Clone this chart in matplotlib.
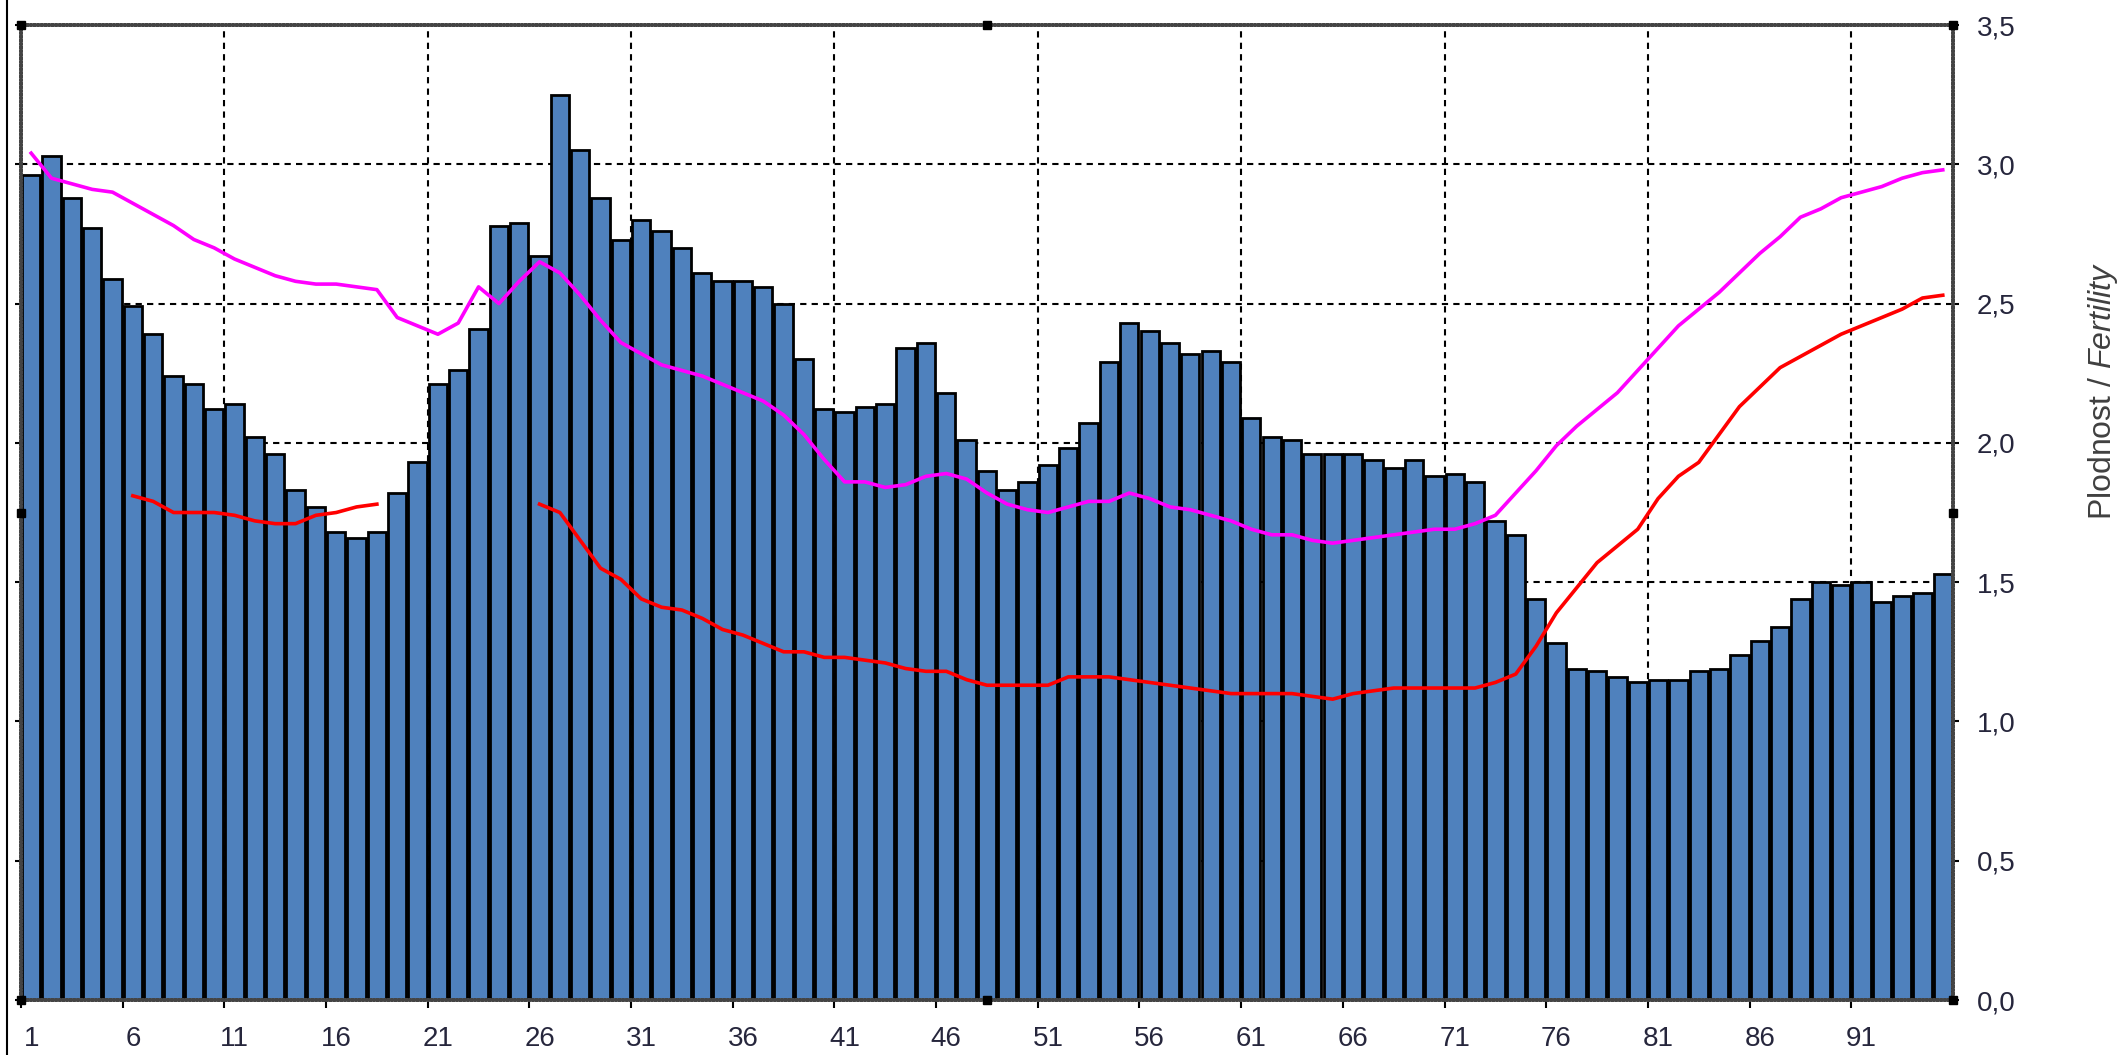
import numpy as np
import matplotlib
matplotlib.use("Agg")
import matplotlib.pyplot as plt
from matplotlib.lines import Line2D
from matplotlib.ticker import FuncFormatter

plt.rcParams['font.family'] = ['Liberation Sans', 'DejaVu Sans']
plt.rcParams['mathtext.fontset'] = 'custom'
plt.rcParams['mathtext.rm'] = 'Liberation Sans'
plt.rcParams['mathtext.it'] = 'Liberation Sans:italic'

ages = np.arange(1, 96)

fertility = [
    2.96, 3.03, 2.88, 2.77, 2.59, 2.49, 2.39, 2.24, 2.21, 2.12,
    2.14, 2.02, 1.96, 1.83, 1.77, 1.68, 1.66, 1.68, 1.82, 1.93,
    2.21, 2.26, 2.41, 2.78, 2.79, 2.67, 3.25, 3.05, 2.88, 2.73,
    2.80, 2.76, 2.70, 2.61, 2.58, 2.58, 2.56, 2.50, 2.30, 2.12,
    2.11, 2.13, 2.14, 2.34, 2.36, 2.18, 2.01, 1.90, 1.83, 1.86,
    1.92, 1.98, 2.07, 2.29, 2.43, 2.40, 2.36, 2.32, 2.33, 2.29,
    2.09, 2.02, 2.01, 1.96, 1.96, 1.96, 1.94, 1.91, 1.94, 1.88,
    1.89, 1.86, 1.72, 1.67, 1.44, 1.28, 1.19, 1.18, 1.16, 1.14,
    1.15, 1.15, 1.18, 1.19, 1.24, 1.29, 1.34, 1.44, 1.50, 1.49,
    1.50, 1.43, 1.45, 1.46, 1.53,
]

upper_trend = [
    3.04, 2.95, 2.93, 2.91, 2.90, 2.86, 2.82, 2.78, 2.73, 2.70,
    2.66, 2.63, 2.60, 2.58, 2.57, 2.57, 2.56, 2.55, 2.45, 2.42,
    2.39, 2.43, 2.56, 2.50, 2.58, 2.65, 2.61, 2.53, 2.44, 2.36,
    2.32, 2.28, 2.26, 2.24, 2.21, 2.18, 2.15, 2.10, 2.03, 1.94,
    1.86, 1.86, 1.84, 1.85, 1.88, 1.89, 1.87, 1.82, 1.78, 1.76,
    1.75, 1.77, 1.79, 1.79, 1.82, 1.80, 1.77, 1.76, 1.74, 1.72,
    1.69, 1.67, 1.67, 1.65, 1.64, 1.65, 1.66, 1.67, 1.68, 1.69,
    1.69, 1.71, 1.74, 1.82, 1.90, 1.99, 2.06, 2.12, 2.18, 2.26,
    2.34, 2.42, 2.48, 2.54, 2.61, 2.68, 2.74, 2.81, 2.84, 2.88,
    2.90, 2.92, 2.95, 2.97, 2.98,
]

nan = np.nan
lower_trend = [
    nan, nan, nan, nan, nan, 1.81, 1.79, 1.75, 1.75, 1.75,
    1.74, 1.72, 1.71, 1.71, 1.74, 1.75, 1.77, 1.78, nan, nan,
    nan, nan, nan, nan, nan, 1.78, 1.75, 1.65, 1.55, 1.51,
    1.44, 1.41, 1.40, 1.37, 1.33, 1.31, 1.28, 1.25, 1.25, 1.23,
    1.23, 1.22, 1.21, 1.19, 1.18, 1.18, 1.15, 1.13, 1.13, 1.13,
    1.13, 1.16, 1.16, 1.16, 1.15, 1.14, 1.13, 1.12, 1.11, 1.10,
    1.10, 1.10, 1.10, 1.09, 1.08, 1.10, 1.11, 1.12, 1.12, 1.12,
    1.12, 1.12, 1.14, 1.17, 1.27, 1.39, 1.48, 1.57, 1.63, 1.69,
    1.80, 1.88, 1.93, 2.03, 2.13, 2.20, 2.27, 2.31, 2.35, 2.39,
    2.42, 2.45, 2.48, 2.52, 2.53,
]

label_ages = ages[::5]
y_ticks = np.arange(0, 3.51, 0.5)

text_color = '#26263c'
dash = (0, (3, 2.5))

fig = plt.figure(figsize=(21.2, 10.55), dpi=100)
ax = fig.add_axes([0.0099, 0.0521, 0.9113, 0.9242])

# grid behind the bars
for y in y_ticks[1:-1]:
    ax.axhline(y, color='black', lw=1.5, ls=dash, zorder=1)
for x in ages[10::10] - 0.5:
    ax.axvline(x, color='black', lw=1.5, ls=dash, zorder=1)

ax.bar(ages, fertility, width=0.9, color='#4F81BD', edgecolor='black',
       linewidth=2.0, zorder=2)
ax.plot(ages, upper_trend, color='#FF00FF', lw=2.6, zorder=3)
ax.plot(ages, lower_trend, color='#FF0000', lw=2.6, zorder=3)

ax.set_xlim(0.5, 95.5)
ax.set_ylim(0, 3.5)

# ticks sit on the left edge of every fifth bar, labels under the bar
ax.set_xticks(label_ages - 0.5)
ax.set_xticklabels([])
ax.set_xticks(label_ages, minor=True)
ax.set_xticklabels([str(a) for a in label_ages], minor=True)
ax.tick_params(axis='x', which='major', length=6, width=1.5, direction='out')
ax.tick_params(axis='x', which='minor', length=0, pad=19, labelsize=20,
               labelcolor=text_color)

ax.yaxis.tick_right()
ax.set_yticks(y_ticks)
ax.yaxis.set_major_formatter(FuncFormatter(lambda v, _: f"{v:.1f}".replace('.', ',')))
ax.tick_params(axis='y', which='major', length=4, width=1.5, pad=13,
               labelsize=20, labelcolor=text_color, left=True, right=True)

for spine in ax.spines.values():
    spine.set_linestyle((0, (0.5, 0.5)))
    spine.set_color('#444444')
    spine.set_linewidth(2.6)
    spine.set_zorder(4)

# selection handles on the plot frame
handles_x = [0, 0.5, 1, 0, 1, 0, 0.5, 1]
handles_y = [1, 1, 1, 0.5, 0.5, 0, 0, 0]
ax.plot(handles_x, handles_y, 's', color='black', markersize=6,
        transform=ax.transAxes, clip_on=False, zorder=5)

fig.text(2103 / 2120, 1 - 391 / 1055, r'Plodnost / $\mathit{Fertility}$',
         rotation=90, ha='center', va='center', fontsize=23, color='#404040')

fig.add_artist(Line2D([7 / 2120, 7 / 2120], [0, 1], transform=fig.transFigure,
                      color='black', lw=1.5))

fig.savefig('out.png', dpi=100)
